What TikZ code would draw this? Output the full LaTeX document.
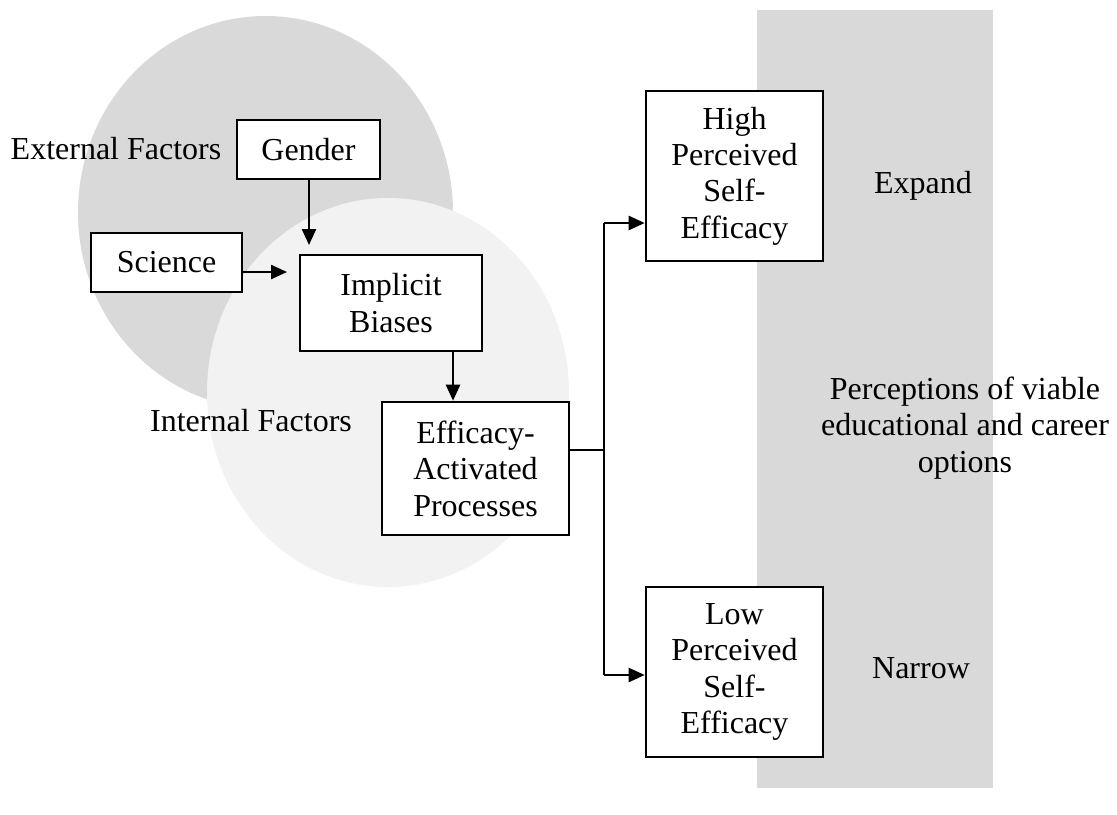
\documentclass[tikz,border=0pt]{standalone}
\usepackage{fontspec}
\setmainfont{Liberation Serif}
\usetikzlibrary{arrows.meta}
\definecolor{darkfill}{HTML}{D9D9D9}
\definecolor{lightfill}{HTML}{F2F2F2}
\begin{document}
\begin{tikzpicture}[x=0.5pt,y=-0.5pt,
  every node/.style={font=\fontsize{16}{18.2}\selectfont, align=center, inner sep=0pt},
  box/.style={draw=black, line width=1.3pt, fill=white},
  arr/.style={line width=1.2pt, -{Triangle[length=8pt,width=7pt]}},
  thin/.style={line width=0.7pt}]
\useasboundingbox (0,0) rectangle (1117,814);
% backgrounds
\fill[darkfill] (757,10) rectangle (993,788);
\fill[darkfill] (265.5,212.5) ellipse[x radius=187.5, y radius=196.5];
\fill[lightfill] (388,392.5) ellipse[x radius=181, y radius=194.5];
% labels
\node (ext) at (116,149) {External Factors};
\node (int) at (251,421) {Internal Factors};
\node (expand) at (923,186) {Expand};
\node (narrow) at (921,668) {Narrow};
\node (percep) at (965,428) {Perceptions of viable\\educational and career\\options};
% boxes
\node[box, minimum width=71.5pt, minimum height=29.5pt] (gender) at (308.5,149.5) {Gender};
\node[box, minimum width=75.5pt, minimum height=29.5pt] (science) at (166.5,262.5) {Science};
\node[box, minimum width=91pt, minimum height=48pt] (implicit) at (391,303) {Implicit\\Biases};
\node[box, minimum width=93.5pt, minimum height=66.5pt] (efficacy) at (475.5,468.5) {Efficacy-\\Activated\\Processes};
\node[box, minimum width=88.5pt, minimum height=85pt] (high) at (734.5,176) {High\\Perceived\\Self-\\Efficacy};
\node[box, minimum width=88.5pt, minimum height=85pt] (low) at (734.5,672) {Low\\Perceived\\Self-\\Efficacy};
% connectors
\coordinate (gtip) at (309,245);
\coordinate (stip) at (287,272);
\coordinate (vtop) at (604,223);
\coordinate (vbot) at (604,675);
\coordinate (vmid) at (604,450);
\draw[arr] (gender.south -| gtip) -- (gtip);
\draw[arr] (science.east |- stip) -- (stip);
\draw[arr] (implicit.south -| 453,0) -- (efficacy.north -| 453,0);
\draw[thin] (efficacy.east |- vmid) -- (vmid);
\draw[thin] (vtop) -- (vbot);
\draw[arr] (vtop) -- (high.west |- vtop);
\draw[arr] (vbot) -- (low.west |- vbot);
\end{tikzpicture}
\end{document}
